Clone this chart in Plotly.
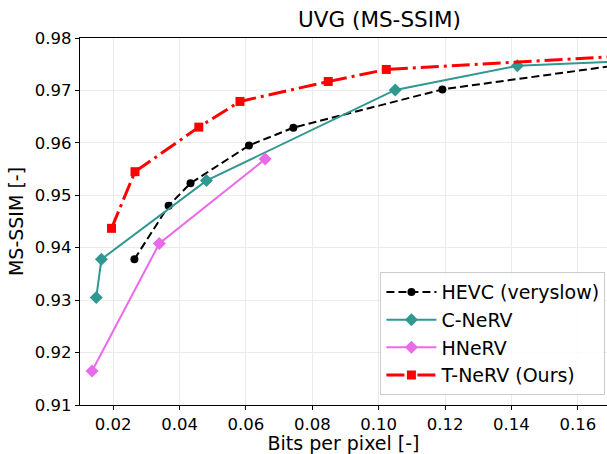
import plotly.graph_objects as go

hevc_bpp = [0.0264, 0.0367, 0.0433, 0.0609, 0.0743, 0.1192, 0.172]
hevc_ssim = [0.9378, 0.9480, 0.9523, 0.9595, 0.9629, 0.9702, 0.9748]

cnerv_bpp = [0.0149, 0.01645, 0.0481, 0.1050, 0.1418, 0.172]
cnerv_ssim = [0.9305, 0.9378, 0.9528, 0.9701, 0.9747, 0.9755]

hnerv_bpp = [0.01364, 0.0339, 0.0658]
hnerv_ssim = [0.9165, 0.9408, 0.9569]

tnerv_bpp = [0.0195, 0.02657, 0.0458, 0.0582, 0.0848, 0.1023, 0.172]
tnerv_ssim = [0.9437, 0.9545, 0.9630, 0.9679, 0.9717, 0.9740, 0.9765]

x_ticks = [0.02, 0.04, 0.06, 0.08, 0.10, 0.12, 0.14, 0.16]
x_tick_labels = ["0.02", "0.04", "0.06", "0.08", "0.10", "0.12", "0.14", "0.16"]
y_ticks = [0.91, 0.92, 0.93, 0.94, 0.95, 0.96, 0.97, 0.98]
y_tick_labels = ["0.91", "0.92", "0.93", "0.94", "0.95", "0.96", "0.97", "0.98"]

fig = go.Figure()
fig.add_trace(go.Scatter(x=hevc_bpp, y=hevc_ssim, mode="lines+markers", name="HEVC (veryslow)",
                         line=dict(color="black", width=2, dash="8px,4px"),
                         marker=dict(symbol="circle", size=8, color="black")))
fig.add_trace(go.Scatter(x=cnerv_bpp, y=cnerv_ssim, mode="lines+markers", name="C-NeRV",
                         line=dict(color="#2f9891", width=2),
                         marker=dict(symbol="diamond", size=10, color="#2f9891")))
fig.add_trace(go.Scatter(x=hnerv_bpp, y=hnerv_ssim, mode="lines+markers", name="HNeRV",
                         line=dict(color="#ea6aea", width=2),
                         marker=dict(symbol="diamond", size=10, color="#ea6aea")))
fig.add_trace(go.Scatter(x=tnerv_bpp, y=tnerv_ssim, mode="lines+markers", name="T-NeRV (Ours)",
                         line=dict(color="red", width=3, dash="18px,5px,3px,5px"),
                         marker=dict(symbol="square", size=9, color="red")))

font = "DejaVu Sans"
fig.update_layout(
    width=607, height=454,
    margin=dict(l=80, r=0, t=38, b=49, autoexpand=False),
    paper_bgcolor="white", plot_bgcolor="white",
    font=dict(family=font, size=16.5, color="black"),
    title=dict(text="UVG (MS-SSIM)", x=345 / 607, xanchor="center", xref="paper",
               y=1 - 19 / 454, yanchor="middle", font=dict(size=21.5)),
    showlegend=True,
    legend=dict(x=0.997, xanchor="right", y=0.027, yanchor="bottom",
                bgcolor="rgba(255,255,255,0.85)", bordercolor="#cccccc", borderwidth=1,
                font=dict(size=19), tracegroupgap=0, itemwidth=50),
)
fig.update_xaxes(range=[0.01, 0.1688], tickvals=x_ticks, ticktext=x_tick_labels,
                 showgrid=True, gridcolor="#ebebeb", gridwidth=1,
                 showline=True, linecolor="black", linewidth=1.3, mirror=True,
                 ticks="outside", ticklen=4, tickcolor="black", zeroline=False,
                 title=dict(text="Bits per pixel [-]", font=dict(size=19), standoff=7),
                 tickfont=dict(size=16.5), automargin=False)
fig.update_yaxes(range=[0.91, 0.98], tickvals=y_ticks, ticktext=y_tick_labels,
                 showgrid=True, gridcolor="#ebebeb", gridwidth=1,
                 showline=True, linecolor="black", linewidth=1.3, mirror=False,
                 ticks="outside", ticklen=4, tickcolor="black", zeroline=False,
                 title=dict(text="MS-SSIM [-]", font=dict(size=19), standoff=6),
                 tickfont=dict(size=16.5), automargin=False)

fig.write_html("out.html", config={"displayModeBar": False},
               post_script="document.body.style.margin='0';")
